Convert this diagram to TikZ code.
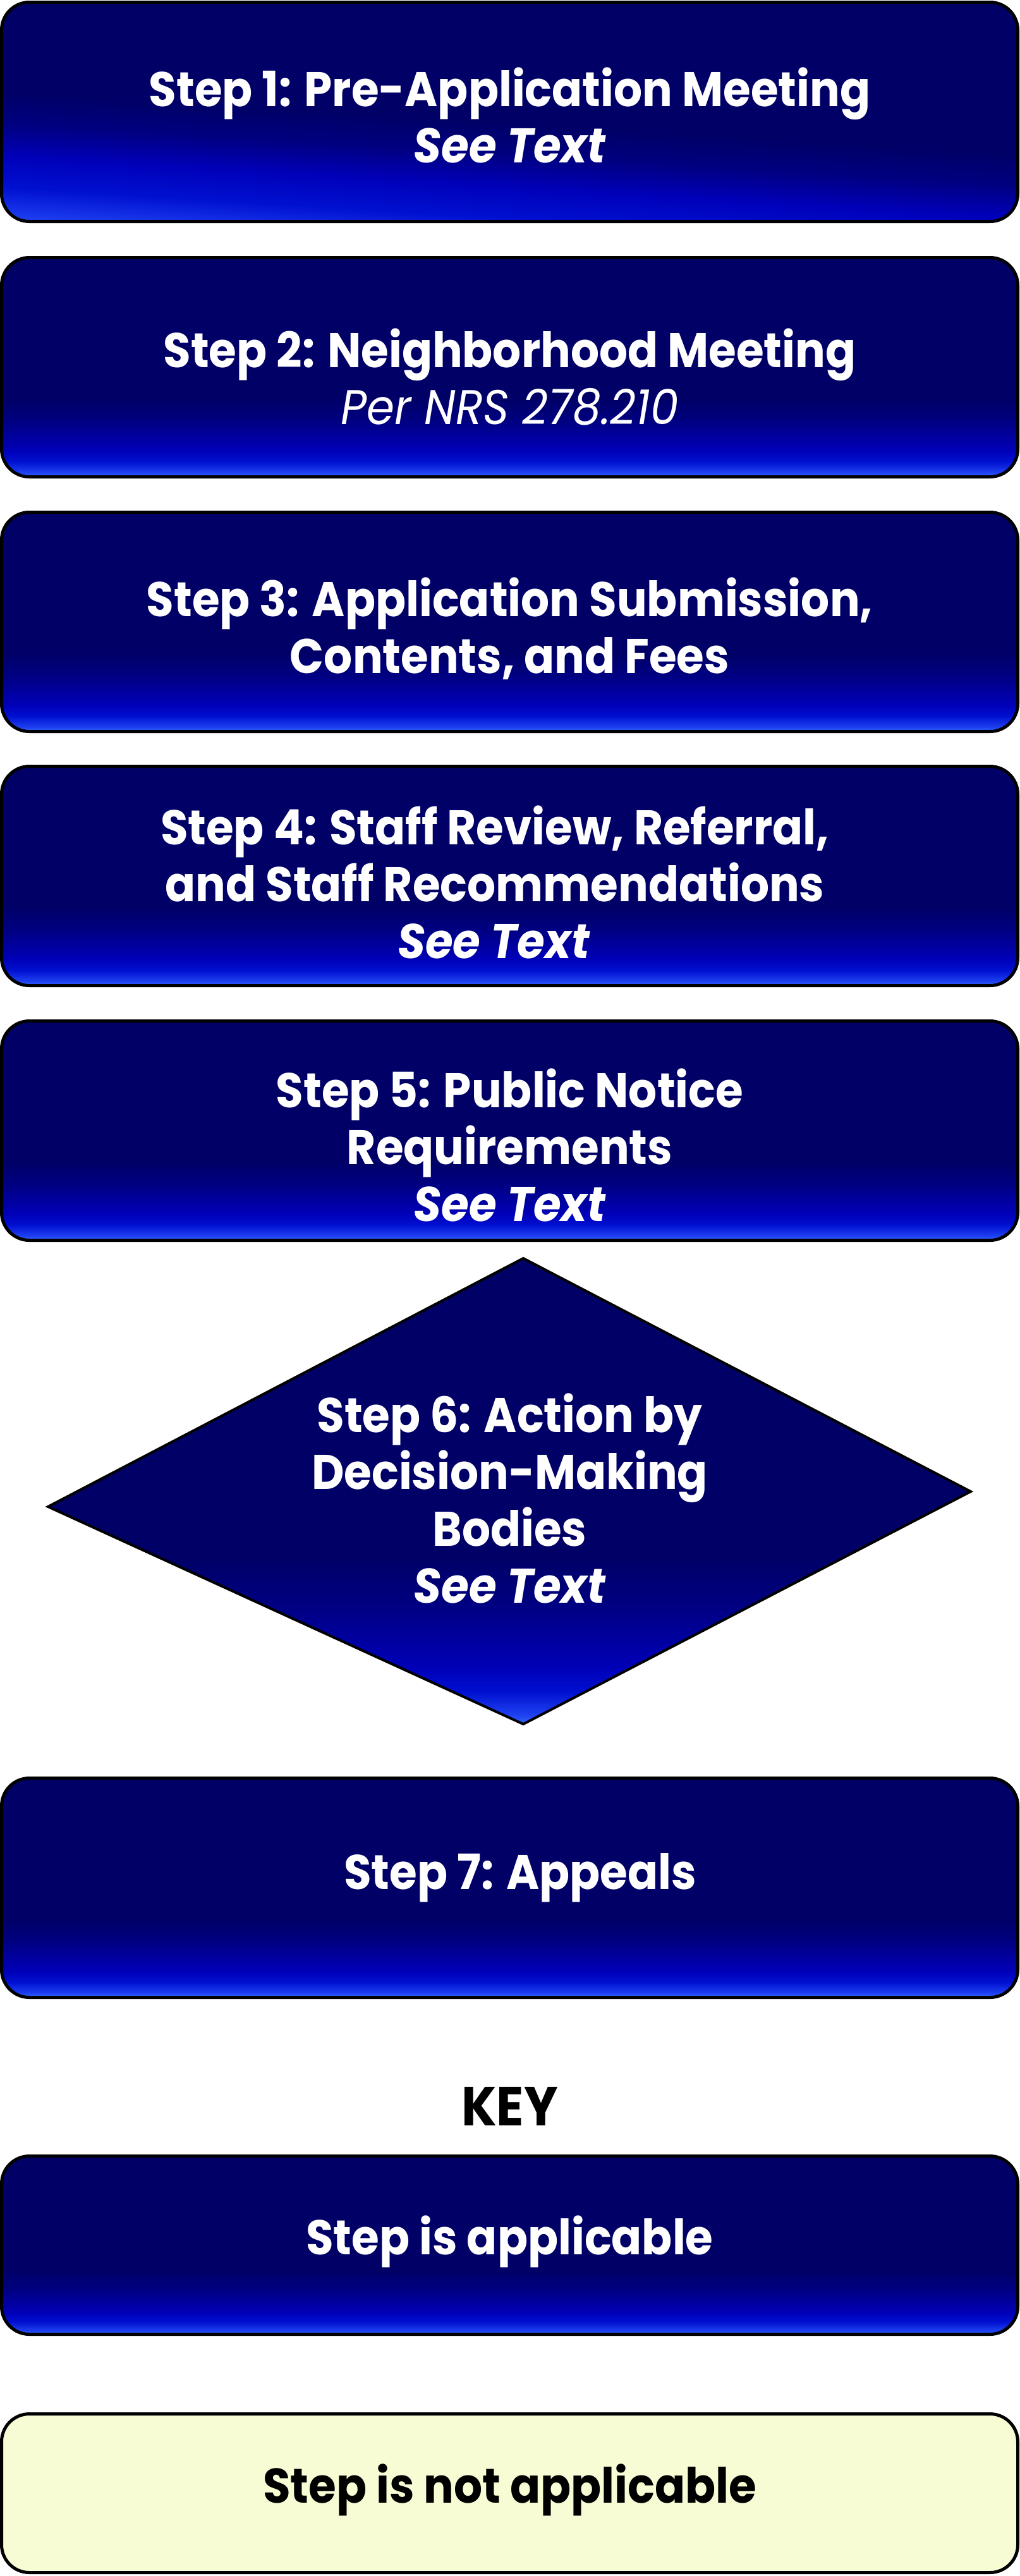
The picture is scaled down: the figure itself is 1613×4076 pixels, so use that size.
\documentclass[tikz,border=0pt]{standalone}
\usepackage{fontspec}
\setmainfont{Poppins}[FakeStretch=0.92]
\definecolor{sLight}{HTML}{3366FF}
\definecolor{sLtwo}{HTML}{1E40F0}
\definecolor{sMone}{HTML}{0010D0}
\definecolor{sMtwo}{HTML}{0000B8}
\definecolor{sMthree}{HTML}{0000A0}
\definecolor{sMfour}{HTML}{000080}
\definecolor{sNavy}{HTML}{000066}
\definecolor{keyyellow}{HTML}{F8FCD4}
\pgfdeclareverticalshading{stepshade}{100bp}{color(0bp)=(sLight); color(25bp)=(sLight); color(26bp)=(sLtwo); color(28.5bp)=(sMone); color(31bp)=(sMtwo); color(34bp)=(sMthree); color(38bp)=(sMfour); color(43bp)=(sNavy); color(100bp)=(sNavy)}
\pgfdeclareverticalshading{firstshade}{100bp}{color(0bp)=(sLight); color(18bp)=(sLight); color(24bp)=(sLtwo); color(30bp)=(sMone); color(36bp)=(sMtwo); color(42bp)=(sMfour); color(48bp)=(sNavy); color(100bp)=(sNavy)}
\begin{document}
\begin{tikzpicture}[x=0.5pt,y=-0.5pt,
  boxbase/.style={draw=black, line width=2.5pt, rounded corners=22pt, minimum width=804pt, inner sep=0pt, outer sep=0pt},
  stepbox/.style={boxbase, minimum height=173.5pt, shade, shading=stepshade},
  keybox/.style={boxbase, shade, shading=stepshade},
  nakeybox/.style={boxbase, fill=keyyellow},
  diamondshape/.style={draw=black, line width=2pt, line join=miter, shade, shading=stepshade},
  txt/.style={anchor=base, inner sep=0pt, text=white, font=\fontsize{38.5pt}{45pt}\selectfont\bfseries},
  txtit/.style={txt, font=\fontsize{38.5pt}{45pt}\selectfont\bfseries\itshape},
  txtrit/.style={txt, font=\fontsize{38.5pt}{45pt}\selectfont\mdseries\itshape},
  blacktxt/.style={txt, text=black},
  keytitle/.style={anchor=base, inner sep=0pt, text=black, font=\fontsize{43.5pt}{50pt}\selectfont\bfseries}
]
\useasboundingbox (0,0) rectangle (1613,4076);

% Step 1
\node[stepbox, shading=firstshade, shading angle=-3.5] (b1) at (806.5,177) {};
\node[txt] (t1a) at (806.5,168) {Step 1: Pre-Application Meeting};
\node[txtit] (t1b) at (806.5,257) {See Text};

% Step 2
\node[stepbox] (b2) at (806.5,581) {};
\node[txt] (t2a) at (806.5,581) {Step 2: Neighborhood Meeting};
\node[txtrit] (t2b) at (806.5,671) {Per NRS 278.210};

% Step 3
\node[stepbox] (b3) at (806.5,984) {};
\node[txt] (t3a) at (806.5,975) {Step 3: Application Submission,};
\node[txt] (t3b) at (806.5,1065) {Contents, and Fees};

% Step 4
\node[stepbox] (b4) at (806.5,1386) {};
\node[txt] (t4a) at (783,1336) {Step 4: Staff Review, Referral,};
\node[txt] (t4b) at (783,1426) {and Staff Recommendations};
\node[txtit] (t4c) at (781,1516) {See Text};

% Step 5
\node[stepbox] (b5) at (806.5,1789) {};
\node[txt] (t5a) at (806.5,1752) {Step 5: Public Notice};
\node[txt] (t5b) at (806.5,1842) {Requirements};
\node[txtit] (t5c) at (806.5,1932) {See Text};

% Step 6 (diamond)
\coordinate (d6t) at (828,1991);
\coordinate (d6r) at (1536,2360);
\coordinate (d6b) at (828,2728);
\coordinate (d6l) at (76,2384);
\path[diamondshape] (d6t) -- (d6r) -- (d6b) -- (d6l) -- cycle;
\node[txt] (t6a) at (806.5,2266) {Step 6: Action by};
\node[txt] (t6b) at (806.5,2356) {Decision-Making};
\node[txt] (t6c) at (806.5,2446) {Bodies};
\node[txtit] (t6d) at (806.5,2536) {See Text};

% Step 7
\node[stepbox] (b7) at (806.5,2987) {};
\node[txt] (t7a) at (823,2989) {Step 7: Appeals};

% Key
\node[keytitle] (key) at (806.5,3363) {KEY};
\node[keybox, minimum height=141pt] (k1) at (806.5,3552.5) {};
\node[txt] (k1t) at (806.5,3567) {Step is applicable};
\node[nakeybox, minimum height=125.5pt] (k2) at (806.5,3945) {};
\node[blacktxt] (k2t) at (806.5,3960) {Step is not applicable};
\end{tikzpicture}
\end{document}
